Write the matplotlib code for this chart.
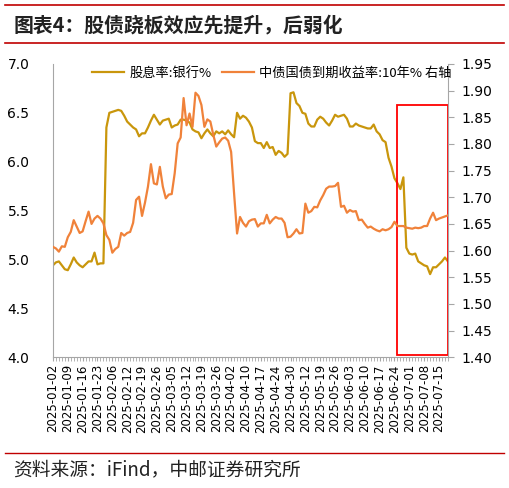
import numpy as np
import matplotlib.pyplot as plt
from matplotlib.patches import Rectangle

plt.rcParams['font.family'] = ['Noto Sans CJK SC', 'DejaVu Sans']

# 股息率:银行% (左轴), 每个交易日一个点, 2025-01-02 ~ 2025-07-18
dividend = [4.94, 4.97, 4.98, 4.94, 4.90, 4.89, 4.95, 5.02, 4.97, 4.94,
            4.92, 4.95, 4.98, 4.98, 5.07, 4.95, 4.96, 4.96, 6.35, 6.50,
            6.51, 6.52, 6.53, 6.52, 6.47, 6.41, 6.38, 6.35, 6.33, 6.26,
            6.29, 6.29, 6.35, 6.42, 6.48, 6.43, 6.38, 6.42, 6.43, 6.44,
            6.35, 6.37, 6.38, 6.43, 6.43, 6.42, 6.40, 6.33, 6.31, 6.30,
            6.24, 6.29, 6.33, 6.29, 6.26, 6.31, 6.29, 6.31, 6.28, 6.32,
            6.28, 6.25, 6.50, 6.44, 6.47, 6.45, 6.41, 6.35, 6.21, 6.19,
            6.19, 6.14, 6.20, 6.14, 6.15, 6.07, 6.11, 6.09, 6.05, 6.08,
            6.70, 6.71, 6.60, 6.57, 6.50, 6.49, 6.39, 6.36, 6.36, 6.43,
            6.46, 6.44, 6.40, 6.37, 6.42, 6.48, 6.46, 6.47, 6.48, 6.44,
            6.36, 6.36, 6.39, 6.37, 6.36, 6.35, 6.34, 6.34, 6.38, 6.31,
            6.28, 6.22, 6.20, 6.04, 5.95, 5.83, 5.78, 5.72, 5.84, 5.12,
            5.06, 5.05, 5.06, 4.98, 4.96, 4.94, 4.93, 4.85, 4.92, 4.92,
            4.95, 4.98, 5.02, 4.98]

# 中债国债到期收益率:10年% (右轴)
cgb10y = [1.607, 1.604, 1.598, 1.608, 1.607, 1.625, 1.635, 1.657, 1.645, 1.633,
          1.636, 1.655, 1.673, 1.650, 1.660, 1.665, 1.660, 1.651, 1.629, 1.620,
          1.596, 1.603, 1.607, 1.633, 1.628, 1.633, 1.635, 1.652, 1.695, 1.701,
          1.665, 1.690, 1.720, 1.762, 1.726, 1.724, 1.757, 1.720, 1.698, 1.705,
          1.706, 1.745, 1.801, 1.812, 1.886, 1.835, 1.857, 1.832, 1.896, 1.890,
          1.873, 1.832, 1.846, 1.842, 1.817, 1.795, 1.803, 1.810, 1.812, 1.806,
          1.785, 1.707, 1.632, 1.663, 1.652, 1.645, 1.655, 1.658, 1.659, 1.645,
          1.651, 1.651, 1.667, 1.651, 1.658, 1.663, 1.660, 1.660, 1.652, 1.625,
          1.626, 1.632, 1.640, 1.632, 1.633, 1.688, 1.671, 1.674, 1.682, 1.681,
          1.694, 1.704, 1.716, 1.720, 1.720, 1.721, 1.727, 1.682, 1.684, 1.671,
          1.676, 1.673, 1.674, 1.657, 1.658, 1.650, 1.643, 1.645, 1.641, 1.638,
          1.636, 1.640, 1.638, 1.640, 1.644, 1.654, 1.646, 1.646, 1.646, 1.643,
          1.642, 1.641, 1.643, 1.642, 1.643, 1.646, 1.646, 1.660, 1.671, 1.657,
          1.660, 1.662, 1.664, 1.666]

# 每5个交易日一个标签
tick_labels = ['2025-01-02', '2025-01-09', '2025-01-16', '2025-01-23', '2025-02-06',
               '2025-02-12', '2025-02-19', '2025-02-26', '2025-03-05', '2025-03-12',
               '2025-03-19', '2025-03-26', '2025-04-02', '2025-04-10', '2025-04-17',
               '2025-04-24', '2025-04-30', '2025-05-12', '2025-05-19', '2025-05-26',
               '2025-06-03', '2025-06-10', '2025-06-17', '2025-06-24', '2025-07-01',
               '2025-07-08', '2025-07-15']

gold = '#C9960C'
orange = '#F0823A'
red = '#C00000'
grey = '#A6A6A6'

x = np.arange(len(dividend))

fig = plt.figure(figsize=(5.09, 4.88), dpi=100)
ax = fig.add_axes([0.104, 0.268, 0.776, 0.601])
ax2 = ax.twinx()

l1, = ax.plot(x, dividend, color=gold, lw=1.6, label='股息率:银行%')
l2, = ax2.plot(x, cgb10y, color=orange, lw=1.6, label='中债国债到期收益率:10年% 右轴')

ax.set_xlim(0, len(dividend) - 1)
ax.set_ylim(4.0, 7.0)
ax2.set_ylim(1.40, 1.95)
ax.set_yticks(np.arange(4.0, 7.01, 0.5))
ax.set_yticklabels(['%.1f' % v for v in np.arange(4.0, 7.01, 0.5)])
ax2.set_yticks(np.arange(1.40, 1.951, 0.05))
ax2.set_yticklabels(['%.2f' % v for v in np.arange(1.40, 1.951, 0.05)])

ax.set_xticks(np.arange(0, 5 * len(tick_labels), 5))
ax.set_xticklabels(tick_labels, rotation=90, fontsize=8.5, family='DejaVu Sans')
ax.set_xticks(x, minor=True)
ax.tick_params(axis='x', which='both', length=3, color=grey, direction='out', pad=2)
ax.tick_params(axis='y', length=0, labelsize=10, pad=17)
ax2.tick_params(axis='y', length=4, color=grey, labelsize=10, pad=6)
for lab in ax.get_yticklabels() + ax2.get_yticklabels():
    lab.set_family('DejaVu Sans')

for a in (ax, ax2):
    a.spines['top'].set_visible(False)
    for s in ('left', 'right', 'bottom'):
        a.spines[s].set_color(grey)
ax.spines['right'].set_visible(False)
ax2.spines['left'].set_visible(False)
ax2.spines['bottom'].set_visible(False)

# 红框标注
ax.add_patch(Rectangle((115.8, 4.02), len(dividend) - 1 - 115.8, 2.56,
                       fill=False, edgecolor='#FF0000', lw=1.3, zorder=5, clip_on=False))

ax2.legend(handles=[l1, l2], loc='center', bbox_to_anchor=(0.554, 0.969), ncol=2,
           frameon=False, fontsize=9.5, handlelength=2.4, columnspacing=0.8,
           handletextpad=0.4)

# 标题、来源和红线
fig.text(0.026, 0.949, '图表4：股债跷板效应先提升，后弱化', fontsize=14.3, fontweight='bold',
         va='center', ha='left', color='#222222')
fig.add_artist(plt.Line2D([0.01, 0.99], [0.989, 0.989], color=red, lw=1.2))
fig.add_artist(plt.Line2D([0.01, 0.99], [0.912, 0.912], color=red, lw=1.2))
fig.add_artist(plt.Line2D([0.01, 0.99], [0.072, 0.072], color=red, lw=1.0))
fig.text(0.026, 0.037, '资料来源：iFind，中邮证券研究所', fontsize=13.5, va='center', ha='left',
         color='#222222')

fig.savefig('out.png', dpi=100)
